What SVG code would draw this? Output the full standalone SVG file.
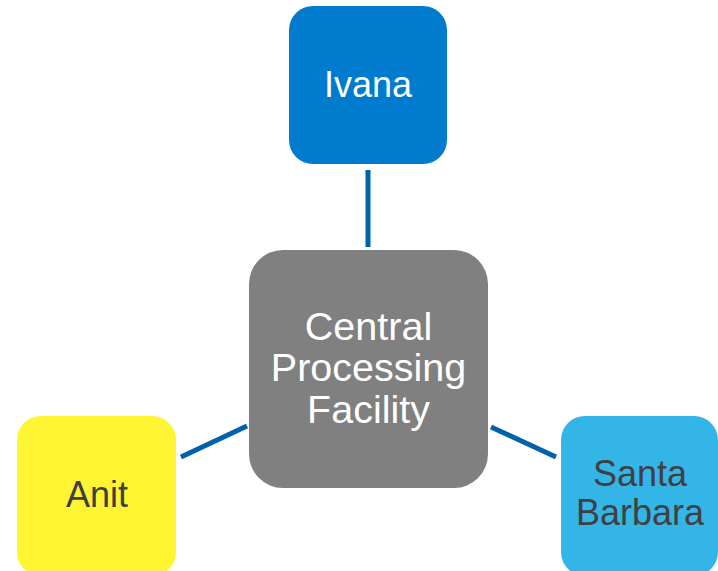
<svg xmlns="http://www.w3.org/2000/svg" width="718" height="571" viewBox="0 0 718 571">
<style>
.lbl{font-family:"Liberation Sans",Arial,sans-serif;font-size:36px;text-anchor:middle}
.w{fill:#ffffff}
.d{fill:#404040}
.conn line{stroke:#0062A8;stroke-width:5;fill:none}
</style>
<rect width="718" height="571" fill="#ffffff"/>
<g id="connectors" class="conn">
<line x1="368" y1="170" x2="368" y2="247"/>
<line x1="181" y1="457" x2="247" y2="426"/>
<line x1="491" y1="427" x2="556" y2="457"/>
</g>
<g id="ivana">
<rect x="289" y="6" width="158" height="158" rx="24" fill="#007BCE"/>
<text class="lbl w" x="368" y="97">Ivana</text>
</g>
<g id="central">
<rect x="249" y="250" width="239" height="238" rx="34" fill="#808080"/>
<text class="lbl w" style="font-size:39.5px" x="368.5" y="340">Central</text>
<text class="lbl w" style="font-size:39.5px" x="368.5" y="381">Processing</text>
<text class="lbl w" style="font-size:39.5px" x="368.5" y="423">Facility</text>
</g>
<g id="anit">
<rect x="17" y="416" width="159" height="160" rx="24" fill="#FFF533"/>
<text class="lbl d" x="97" y="507">Anit</text>
</g>
<g id="santa-barbara">
<rect x="561" y="416" width="157" height="160" rx="24" fill="#33B5E8"/>
<text class="lbl d" x="640" y="486">Santa</text>
<text class="lbl d" x="640" y="525">Barbara</text>
</g>
</svg>
